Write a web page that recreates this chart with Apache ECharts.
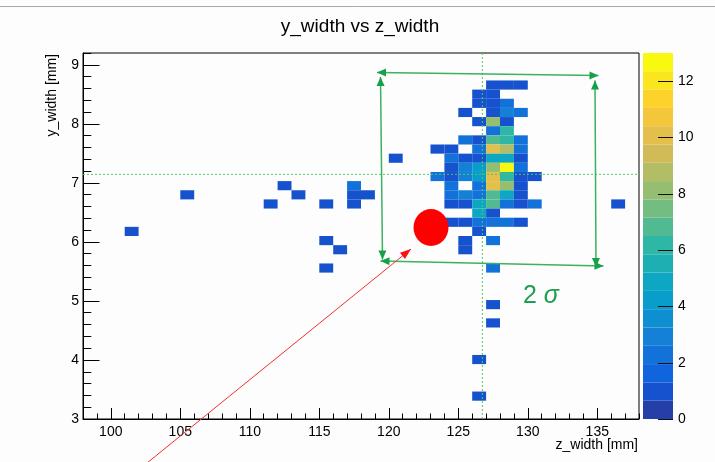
<!DOCTYPE html>
<html>
<head>
<meta charset="utf-8">
<script src="https://cdn.jsdelivr.net/npm/echarts@6/dist/echarts.min.js"></script>
<style>
  html, body { margin: 0; padding: 0; background: #fdfdfd; }
  #chart { width: 715px; height: 462px; }
</style>
</head>
<body>
<div id="chart"></div>
<script>
// ---- 2D histogram binning (40 x 40 bins) ----
const Z_MIN = 98, Z_MAX = 138, Z_NBINS = 40;
const Y_MIN = 3, Y_MAX = 9.2, Y_NBINS = 40;

// ---- filled bins: z-bin index, y-bin index, entries ----
const binIz = [
  29, 30, 31,
  28, 29,
  28, 29, 30,
  27, 29, 30, 31,
  28, 29, 30,
  29, 30,
  27, 28, 29, 30, 31,
  25, 26, 28, 29, 30, 31,
  22, 26, 27, 28, 29, 30, 31,
  26, 27, 28, 29, 30, 31,
  25, 26, 27, 28, 29, 30, 31, 32,
  14, 19, 26, 28, 29, 30, 31,
  7, 15, 19, 20, 26, 27, 28, 29, 30, 31,
  13, 17, 19, 26, 27, 28, 29, 30, 31, 32, 38,
  28, 29,
  26, 27, 28, 29, 30, 31,
  3, 28,
  17, 27, 29,
  18, 27,
  17, 29,
  29,
  29,
  28,
  28
];
const binIy = [
  36, 36, 36,
  35, 35,
  34, 34, 34,
  33, 33, 33, 33,
  32, 32, 32,
  31, 31,
  30, 30, 30, 30, 30,
  29, 29, 29, 29, 29, 29,
  28, 28, 28, 28, 28, 28, 28,
  27, 27, 27, 27, 27, 27,
  26, 26, 26, 26, 26, 26, 26, 26,
  25, 25, 25, 25, 25, 25, 25,
  24, 24, 24, 24, 24, 24, 24, 24, 24, 24,
  23, 23, 23, 23, 23, 23, 23, 23, 23, 23, 23,
  22, 22,
  21, 21, 21, 21, 21, 21,
  20, 20,
  19, 19, 19,
  18, 18,
  16, 16,
  12,
  10,
  6,
  2
];
const binCount = [
  1, 1, 1,
  1, 1,
  1, 1, 2,
  1, 1, 3, 2,
  1, 8, 1,
  2, 6,
  2, 1, 7, 6, 2,
  1, 1, 2, 10, 9, 2,
  1, 2, 1, 1, 5, 5, 1,
  1, 3, 4, 8, 13, 2,
  2, 1, 3, 4, 10, 6, 1, 1,
  1, 2, 2, 2, 10, 8, 1,
  1, 1, 1, 1, 2, 3, 2, 7, 5, 1,
  1, 1, 1, 1, 1, 5, 7, 2, 1, 2, 1,
  5, 1,
  1, 1, 2, 2, 2, 1,
  1, 1,
  1, 1, 2,
  1, 1,
  1, 2,
  1,
  1,
  1,
  1
];

// ---- means of the two variables (dotted guide lines) ----
const MEAN_Z = 126.73;
const MEAN_Y = 7.145;

// ---- tick labels ----
const zTickLabels = [100, 105, 110, 115, 120, 125, 130, 135];
const yTickLabels = [3, 4, 5, 6, 7, 8, 9];
const colzTickLabels = [0, 2, 4, 6, 8, 10, 12];
const N_CONTOURS = 20;

// ---- kBird palette, 255 colours, gradient table ----
const BIRD_STOPS = [0.0000, 0.1250, 0.2500, 0.3750, 0.5000, 0.6250, 0.7500, 0.8750, 1.0000];
const BIRD_R = [0.2082, 0.0592, 0.0780, 0.0232, 0.1802, 0.5301, 0.8186, 0.9956, 0.9764];
const BIRD_G = [0.1664, 0.3599, 0.5041, 0.6419, 0.7178, 0.7492, 0.7328, 0.7862, 0.9832];
const BIRD_B = [0.5293, 0.8684, 0.8385, 0.7914, 0.6425, 0.4662, 0.3499, 0.1968, 0.0539];

function buildPalette(n) {
  const out = [];
  for (let g = 1; g < BIRD_STOPS.length; g++) {
    const a = Math.floor(BIRD_STOPS[g - 1] * n);
    const b = Math.floor(BIRD_STOPS[g] * n);
    const m = b - a;
    for (let c = 0; c < m; c++) {
      const t = c / m;
      const r = BIRD_R[g - 1] + t * (BIRD_R[g] - BIRD_R[g - 1]);
      const gg = BIRD_G[g - 1] + t * (BIRD_G[g] - BIRD_G[g - 1]);
      const bb = BIRD_B[g - 1] + t * (BIRD_B[g] - BIRD_B[g - 1]);
      out.push('rgb(' + Math.round(r * 255) + ',' + Math.round(gg * 255) + ',' + Math.round(bb * 255) + ')');
    }
  }
  return out;
}
const PALETTE = buildPalette(255);
const zMax = Math.max.apply(null, binCount);

function levelColor(level) {
  let idx = Math.floor((level + 0.99) * PALETTE.length / N_CONTOURS);
  if (idx > PALETTE.length - 1) idx = PALETTE.length - 1;
  return PALETTE[idx];
}
function countColor(v) {
  let level = Math.floor(0.01 + v * N_CONTOURS / zMax);
  if (level > N_CONTOURS - 1) level = N_CONTOURS - 1;
  return levelColor(level);
}

// ---- bin rectangles in data units ----
const zStep = (Z_MAX - Z_MIN) / Z_NBINS;
const yStep = (Y_MAX - Y_MIN) / Y_NBINS;
const cells = binCount.map(function (c, i) {
  const z0 = Z_MIN + binIz[i] * zStep;
  const y0 = Y_MIN + binIy[i] * yStep;
  return [z0, y0, z0 + zStep, y0 + yStep, c];
});

// colour-bar bands
const bands = [];
for (let i = 0; i < N_CONTOURS; i++) {
  bands.push([i * zMax / N_CONTOURS, (i + 1) * zMax / N_CONTOURS, i]);
}

// minor tick positions
const zMinorTicks = [];
for (let i = 0; i <= Z_NBINS; i++) zMinorTicks.push(Z_MIN + i);
const yMinorTicks = [];
for (let i = 0; i <= 31; i++) yMinorTicks.push(Math.round((Y_MIN + i * 0.2) * 10) / 10);

const FONT = '"Liberation Sans", Arial, Helvetica, sans-serif';
const INK = '#000';

// ---- annotation helpers ----
function arrowHead(tx, ty, fx, fy, len, hw, color) {
  const dx = tx - fx, dy = ty - fy;
  const d = Math.sqrt(dx * dx + dy * dy);
  const ux = dx / d, uy = dy / d;
  const bx = tx - ux * len, by = ty - uy * len;
  return {
    type: 'polygon', z: 100,
    shape: { points: [[tx, ty], [bx - uy * hw, by + ux * hw], [bx + uy * hw, by - ux * hw]] },
    style: { fill: color }
  };
}
function arrow(x1, y1, x2, y2, lineColor, headColor, width, both, len, hw) {
  const els = [{
    type: 'line', z: 100,
    shape: { x1: x1, y1: y1, x2: x2, y2: y2 },
    style: { stroke: lineColor, lineWidth: width }
  }];
  els.push(arrowHead(x2, y2, x1, y1, len, hw, headColor));
  if (both) els.push(arrowHead(x1, y1, x2, y2, len, hw, headColor));
  return els;
}

const GREEN_LINE = '#3bb260';
const GREEN_HEAD = '#16a04a';
let annotations = [];
annotations = annotations.concat(arrow(377, 72.5, 598.5, 75.5, GREEN_LINE, GREEN_HEAD, 1.5, true, 9, 4));
annotations = annotations.concat(arrow(380.5, 77, 382.5, 259.5, GREEN_LINE, GREEN_HEAD, 1.5, true, 9, 4));
annotations = annotations.concat(arrow(595, 80.5, 596, 267, GREEN_LINE, GREEN_HEAD, 1.5, true, 9, 4));
annotations = annotations.concat(arrow(380.5, 261, 603.5, 266, GREEN_LINE, GREEN_HEAD, 1.5, true, 9, 4));
annotations = annotations.concat(arrow(147, 463, 411, 249, '#f03030', '#ff1010', 1, false, 11, 4));
annotations.push({
  type: 'circle', z: 100, x: 431, y: 227.5, scaleY: 18.5 / 17.5,
  shape: { cx: 0, cy: 0, r: 17.5 },
  style: { fill: '#ff0000' }
});
annotations.push({
  type: 'text', z: 100, x: 523, y: 296,
  style: {
    text: '{a|2 }{b|σ}',
    rich: {
      a: { fontSize: 25, fontFamily: FONT, fill: '#1f9f50', color: '#1f9f50' },
      b: { fontSize: 25, fontFamily: FONT, fontStyle: 'italic', fill: '#1f9f50', color: '#1f9f50' }
    },
    align: 'left', verticalAlign: 'middle',
    textAlign: 'left', textVerticalAlign: 'middle'
  }
});
// window edge line across the top
annotations.push({
  type: 'line', z: 100,
  shape: { x1: 0, y1: 6.5, x2: 715, y2: 6.5 },
  style: { stroke: '#a8a8a8', lineWidth: 1 }
});
// histogram title and axis titles
annotations.push({
  type: 'text', z: 100, x: 360, y: 27,
  style: {
    text: 'y_width vs z_width', fontSize: 19, fontFamily: FONT, fill: INK,
    align: 'center', verticalAlign: 'middle', textAlign: 'center', textVerticalAlign: 'middle'
  }
});
annotations.push({
  type: 'text', z: 100, x: 638, y: 445,
  style: {
    text: 'z_width [mm]', fontSize: 14, fontFamily: FONT, fill: INK,
    align: 'right', verticalAlign: 'middle', textAlign: 'right', textVerticalAlign: 'middle'
  }
});
annotations.push({
  type: 'text', z: 100, x: 52, y: 54, rotation: Math.PI / 2,
  style: {
    text: 'y_width [mm]', fontSize: 14, fontFamily: FONT, fill: INK,
    align: 'right', verticalAlign: 'middle', textAlign: 'right', textVerticalAlign: 'middle'
  }
});

const chart = echarts.init(document.getElementById('chart'), null, { renderer: 'canvas' });

const labelStyle = { fontSize: 14, fontFamily: FONT, color: INK };

chart.setOption({
  animation: false,
  backgroundColor: '#fdfdfd',
  grid: [
    { left: 83, top: 53, width: 556, height: 366, show: true, borderColor: '#000', borderWidth: 1, backgroundColor: 'transparent' },
    { left: 643, top: 53, width: 30, height: 366, show: false }
  ],
  xAxis: [
    {
      gridIndex: 0, type: 'value', min: Z_MIN, max: Z_MAX, position: 'bottom',
      axisLine: { show: true, onZero: false, lineStyle: { color: '#000', width: 1 } },
      axisTick: { show: true, inside: true, length: 11, customValues: zTickLabels, lineStyle: { color: '#000' } },
      axisLabel: Object.assign({ show: true, margin: 6, customValues: zTickLabels }, labelStyle),
      splitLine: { show: false }
    },
    {
      gridIndex: 0, type: 'value', min: Z_MIN, max: Z_MAX, position: 'bottom', offset: 0,
      axisLine: { show: false, onZero: false },
      axisTick: { show: true, inside: true, length: 5.5, customValues: zMinorTicks, lineStyle: { color: '#000' } },
      axisLabel: { show: false },
      splitLine: { show: false }
    },
    { gridIndex: 1, type: 'value', min: 0, max: 1, show: false }
  ],
  yAxis: [
    {
      gridIndex: 0, type: 'value', min: Y_MIN, max: Y_MAX, position: 'left',
      axisLine: { show: true, onZero: false, lineStyle: { color: '#000', width: 1 } },
      axisTick: { show: true, inside: true, length: 16.5, customValues: yTickLabels, lineStyle: { color: '#000' } },
      axisLabel: Object.assign({ show: true, margin: 4, customValues: yTickLabels }, labelStyle),
      splitLine: { show: false }
    },
    {
      gridIndex: 0, type: 'value', min: Y_MIN, max: Y_MAX, position: 'left', offset: 0,
      axisLine: { show: false, onZero: false },
      axisTick: { show: true, inside: true, length: 8.3, customValues: yMinorTicks, lineStyle: { color: '#000' } },
      axisLabel: { show: false },
      splitLine: { show: false }
    },
    {
      gridIndex: 1, type: 'value', min: 0, max: zMax, position: 'right',
      axisLine: { show: false },
      axisTick: { show: false },
      axisLabel: Object.assign({ show: true, margin: 5, customValues: colzTickLabels }, labelStyle),
      splitLine: { show: false }
    }
  ],
  series: [
    {
      name: 'y_width vs z_width',
      type: 'custom', xAxisIndex: 0, yAxisIndex: 0, clip: true,
      encode: { x: [0, 2], y: [1, 3] },
      data: cells,
      renderItem: function (params, api) {
        const p0 = api.coord([api.value(0), api.value(3)]);
        const p1 = api.coord([api.value(2), api.value(1)]);
        return {
          type: 'rect',
          shape: { x: p0[0], y: p0[1], width: p1[0] - p0[0], height: p1[1] - p0[1] },
          style: { fill: countColor(api.value(4)) }
        };
      },
      z: 2
    },
    {
      name: 'palette',
      type: 'custom', xAxisIndex: 2, yAxisIndex: 2,
      encode: { y: [0, 1] },
      data: bands,
      renderItem: function (params, api) {
        const p0 = api.coord([0, api.value(1)]);
        const p1 = api.coord([1, api.value(0)]);
        return {
          type: 'rect',
          shape: { x: p0[0], y: p0[1], width: p1[0] - p0[0], height: p1[1] - p0[1] },
          style: { fill: levelColor(api.value(2)) }
        };
      },
      z: 1
    },
    {
      // tick marks on the inner right edge of the colour bar
      name: 'palette ticks',
      type: 'custom', xAxisIndex: 2, yAxisIndex: 2,
      encode: { y: 0 },
      data: colzTickLabels.map(function (v) { return [v]; }),
      renderItem: function (params, api) {
        const p = api.coord([1, api.value(0)]);
        const y = Math.round(p[1]) + 0.5;
        return {
          type: 'line',
          shape: { x1: p[0] - 15, y1: y, x2: p[0], y2: y },
          style: { stroke: '#111', lineWidth: 1 }
        };
      },
      z: 3
    },
    {
      name: 'mean z', type: 'line', xAxisIndex: 0, yAxisIndex: 0,
      data: [[MEAN_Z, Y_MIN], [MEAN_Z, Y_MAX]],
      symbol: 'none', silent: true,
      lineStyle: { color: '#4cc864', width: 1, type: [2, 2] }, z: 5
    },
    {
      name: 'mean y', type: 'line', xAxisIndex: 0, yAxisIndex: 0,
      data: [[Z_MIN, MEAN_Y], [Z_MAX, MEAN_Y]],
      symbol: 'none', silent: true,
      lineStyle: { color: '#4cc864', width: 1, type: [2, 2] }, z: 5
    }
  ],
  graphic: { elements: annotations }
});
</script>
</body>
</html>
